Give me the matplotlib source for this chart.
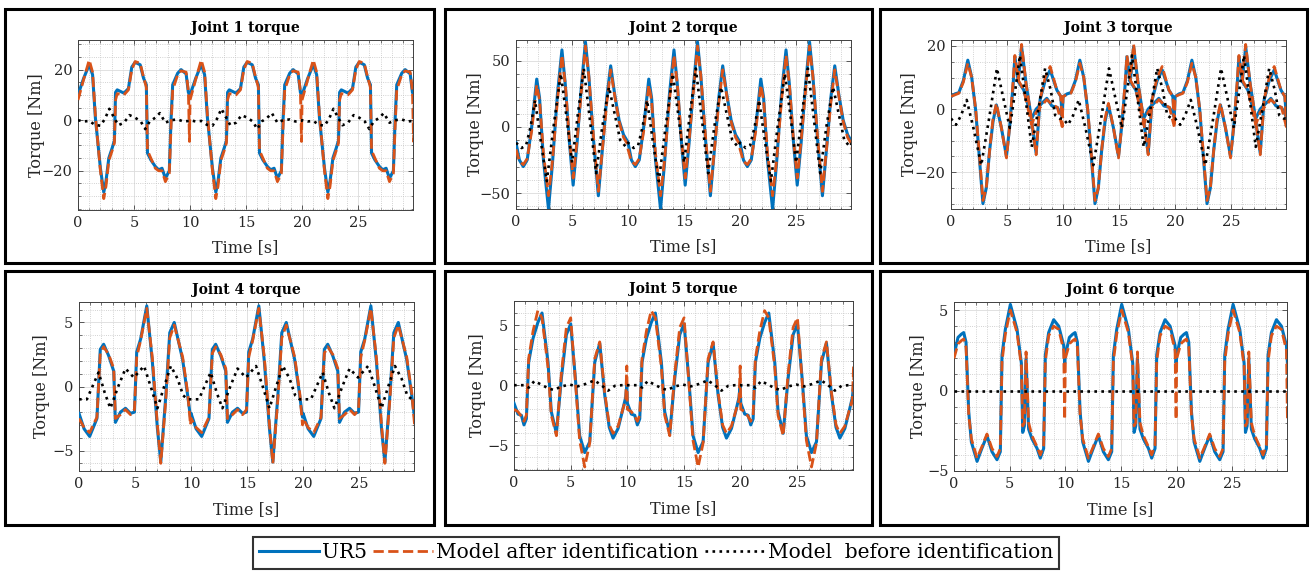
"""
Joint torques of the UR5: measured vs model after / before identification
"""
import numpy as np
import matplotlib
matplotlib.use('Agg')
import matplotlib.pyplot as plt
from matplotlib.patches import Rectangle
from matplotlib.ticker import MultipleLocator

#==================
# Data, one 10 s cycle of the repeated trajectory
PERIOD = 10.0

J1_T = [0, 0.5, 1.0, 1.3, 1.55, 2.0, 2.3, 2.5, 2.75, 3.05, 3.25, 3.35, 3.5, 4.1, 4.5, 4.8, 5.1,
        5.55, 5.85, 6.1, 6.2, 6.5, 6.9, 7.2, 7.5, 7.8, 8.15, 8.3, 8.45, 8.9, 9.2, 9.65, 9.85, 9.95]
J1_UR5 = [10, 16.5, 22, 18, 1, -19, -28.5, -24, -15, -11, -8, 11, 12, 10.7, 12.5, 21, 22.9,
          21.9, 16.6, 14, -13, -15.7, -18.3, -19.6, -19, -23, -20, 0, 14, 18.6, 20, 18.3, 11, 10]
J1_AFTER = [8, 16, 23.8, 19, 2, -20, -31, -26, -16, -12, -9, 8, 10.5, 10, 12, 20, 23.2,
            22.5, 17, 13, -12, -15, -19, -20, -20, -24.3, -21, -3, 12, 18, 19.5, 19, 11.5, -8.4]
J1_BEFORE_T = [0, 0.5, 1.0, 1.5, 2.0, 2.4, 2.8, 3.1, 3.6, 4.1, 4.6, 5.1, 5.6, 6.0, 6.4, 6.9,
               7.3, 7.8, 8.3, 8.9, 9.4, 9.9]
J1_BEFORE = [0, -0.5, -0.3, -1.8, -2.2, 0.5, 4.5, 2, -2, -1, 2, 1, -0.5, -3.5, -0.5, 1,
             2.8, -1, 0, 0.3, -0.5, -0.3]

J2_T = [0, 0.3, 0.65, 1.0, 1.4, 1.85, 2.1, 2.45, 2.9, 3.25, 3.7, 4.1, 4.4, 4.75, 5.1, 5.45,
        5.85, 6.2, 6.5, 6.9, 7.35, 7.7, 8.1, 8.45, 8.8, 9.2, 9.6, 9.95]
J2_UR5 = [-12, -25, -30, -25, 0, 36, 22, -25, -62, -28, 25, 58, 32, -10, -44, -12,
          32, 64, 38, -8, -52, -18, 22, 46, 25, 5, -6, -11]
J2_AFTER = [-17, -26, -28.5, -24, -3, 31.5, 20, -20, -52, -26, 20, 54, 32, -8, -38.7, -10,
            28, 61, 38, -6, -48.7, -18, 18, 43, 24, 4, -8, -13]
J2_BEFORE_T = [0, 0.5, 0.9, 1.3, 1.7, 2.2, 2.75, 3.35, 4.0, 4.5, 5.0, 5.5, 6.05, 6.6, 7.15,
               7.7, 8.3, 8.8, 9.3, 9.8]
J2_BEFORE = [-12, -16, -14, 0, 20, -10, -41, 0, 40, 8, -27, 8, 44, 5, -35,
             0, 30, 10, -10, -15]

J3_T = [0, 0.35, 0.7, 1.1, 1.5, 1.85, 2.2, 2.5, 2.85, 3.15, 3.45, 3.75, 4.05, 4.5, 4.95,
        5.25, 5.55, 5.7, 6.0, 6.3, 6.7, 7.05, 7.6, 7.95, 8.4, 8.85, 9.45, 9.8, 9.93]
J3_UR5 = [3.9, 4.8, 5.2, 9, 15.5, 10, -0.3, -14, -30, -25, -13, -4, 1.3, -6, -15,
          -5, 8, 16.6, 8.7, 19.8, 8, 0, -14, 2.9, 9, 12.4, 6, 4, -2.4]
J3_AFTER = [4, 4.5, 5, 8.5, 14.5, 10, 0, -13, -29, -25, -13, -3, 1.8, -6, -15.5,
            -5, 9, 17, 9.5, 20.5, 8, 0, -14.5, 3, 10, 13.5, 6, 4, -5.6]
# second, lower trace seen between 6 s and 10 s of each cycle
J3_T2 = [5.95, 6.5, 7.2, 7.6, 8.55, 9.0, 9.5, 9.93]
J3_UR5_2 = [9, 6, -3, 0, 3.4, 1, 0.5, -2.4]
J3_AFTER_2 = [9.5, 6, -5, -1, 3, 1.5, 0.5, -5.6]
J3_BEFORE_T = [0, 0.45, 0.9, 1.4, 2.0, 2.7, 3.4, 4.1, 4.7, 5.25, 5.7, 6.15, 6.7, 7.2, 7.8,
               8.4, 8.9, 9.3, 9.7]
J3_BEFORE = [-3, -5, -2, 2.9, -6, -17.8, -3, 12.9, 3, -6, 5, 17, 2, -12, 0,
             12.9, 6, -2, -3]

J4_T = [0, 0.45, 0.95, 1.6, 1.9, 2.2, 2.65, 3.1, 3.25, 3.7, 4.15, 4.6, 4.95, 5.15, 5.5,
        6.05, 6.55, 7.0, 7.3, 7.75, 8.1, 8.5, 9.25, 9.7, 9.95]
J4_UR5 = [-2.1, -3.3, -3.9, -2.5, 2.9, 3.3, 2.4, 1.2, -2.8, -2.0, -1.7, -2.1, -2.0, 2.7, 3.7,
          6.3, 1.9, -3.3, -5.9, -0.7, 4.2, 5.0, 2.1, -0.7, -2.4]
J4_AFTER = [-2.5, -3.2, -3.6, -2.4, 2.6, 3.1, 2.5, 1.4, -2.5, -2.2, -1.8, -2.2, -1.8, 2.3, 3.6,
            6.1, 2.2, -3.0, -6.0, -1.0, 3.8, 4.8, 2.3, -0.5, -3.0]
J4_BEFORE_T = [0, 0.7, 1.2, 1.75, 2.3, 2.8, 3.5, 4.15, 4.9, 5.8, 6.4, 7.0, 7.6, 8.2, 8.8,
               9.3, 9.7]
J4_BEFORE = [-1, -1, 0, 1.1, -0.5, -1.7, 0, 1.4, 0.7, 1.6, 0, -1.7, 0, 1.6, 0.6,
             -0.7, -1]

J5_T = [0, 0.35, 0.65, 0.88, 1.09, 1.29, 1.68, 2.1, 2.47, 3.0, 3.29, 3.74, 4.18, 4.62, 5.0,
        5.41, 5.79, 6.24, 6.68, 7.12, 7.56, 8.0, 8.4, 8.74, 9.18, 9.6, 9.85, 9.95]
J5_UR5 = [-1.5, -2.4, -2.5, -3.3, -2.8, 1.9, 3.9, 5.2, 6.0, 1.9, -2.2, -4.0, 0.6, 4.2, 5.1,
          0.6, -4.2, -5.6, -4.7, 1.9, 3.5, -0.8, -3.5, -4.4, -3.6, -2.0, -1.0, 0]
J5_AFTER = [-2.0, -2.2, -2.6, -3.0, -2.5, 2.2, 4.5, 6.2, 5.6, 1.5, -2.5, -4.2, 1.0, 4.8, 5.6,
            0.4, -4.6, -6.8, -4.8, 2.2, 3.6, -0.6, -3.3, -4.0, -3.4, -2.0, -1.2, 1.6]
J5_BEFORE_T = [0, 0.9, 1.3, 1.8, 2.4, 3.0, 3.5, 4.2, 4.9, 5.6, 6.3, 7.1, 7.7, 8.3, 8.9, 9.5]
J5_BEFORE = [0, 0, -0.2, 0.35, 0.05, -0.25, -0.4, -0.1, 0.05, -0.1, 0.1, 0.4, 0, -0.45, -0.05, 0]

J6_T = [0, 0.36, 0.66, 0.87, 1.08, 1.32, 1.56, 2.07, 2.5, 2.96, 3.41, 3.86, 4.16, 4.31, 4.61,
        5.06, 5.66, 6.05, 6.17, 6.32, 6.47, 6.7, 7.0, 7.46, 7.75, 8.05, 8.2, 8.5, 8.95, 9.4,
        9.85, 9.94]
J6_UR5 = [2.2, 3.3, 3.5, 3.6, 3.0, -1.3, -3.2, -4.4, -3.6, -2.8, -3.8, -4.3, -3.8, 2.2, 3.8,
          5.35, 3.8, 1.7, -2.6, -2.2, 2.0, -2.4, -3.0, -3.6, -4.2, -3.6, 2.2, 3.6, 4.4, 4.0,
          2.8, 1.7]
J6_AFTER = [2.0, 2.9, 3.1, 3.2, 2.7, -1.5, -3.0, -4.2, -3.5, -2.7, -3.6, -4.1, -3.6, 1.8, 3.5,
            5.0, 3.6, 1.5, -2.2, -2.0, 2.4, -2.0, -2.8, -3.5, -4.0, -3.4, 1.8, 3.4, 4.0, 3.8,
            2.5, -1.8]
J6_BEFORE_T = [0, 10]
J6_BEFORE = [0, 0]

LABELS = ['UR5', 'Model after identification', 'Model  before identification']

#==================
# Figure setup
W, H = 1310, 574
BLUE = '#0072BD'
ORANGE = '#D95319'
plt.rcParams['font.family'] = ['DejaVu Serif']


def cycles(t, v, n=4, gap=False):
    """Repeat one measured cycle over the 30 s window"""
    t = np.asarray(t, float)
    v = np.asarray(v, float)
    if gap:
        t = np.append(t, np.nan)
        v = np.append(v, np.nan)
    tt = np.concatenate([t + PERIOD * k for k in range(n)])
    return tt, np.tile(v, n)


def px_axes(x0, y0, x1, y1):
    return [x0 / W, 1 - y1 / H, (x1 - x0) / W, (y1 - y0) / H]


# title, ur5, after, before, extra traces, ylim, ytick step, minor step, axes px, label coords
PANELS = [
    ('Joint 1 torque', (J1_T, J1_UR5), (J1_T, J1_AFTER), (J1_BEFORE_T, J1_BEFORE), None,
     (-35.5, 31.7), 20, 5, (78, 40, 413, 210), -0.098, -0.17),
    ('Joint 2 torque', (J2_T, J2_UR5), (J2_T, J2_AFTER), (J2_BEFORE_T, J2_BEFORE), None,
     (-62, 65.5), 50, 10, (516, 40, 851, 209), -0.097, -0.17),
    ('Joint 3 torque', (J3_T, J3_UR5), (J3_T, J3_AFTER), (J3_BEFORE_T, J3_BEFORE),
     ((J3_T2, J3_UR5_2), (J3_T2, J3_AFTER_2)),
     (-31.7, 21.9), 20, 5, (951, 40, 1286, 209), -0.099, -0.17),
    ('Joint 4 torque', (J4_T, J4_UR5), (J4_T, J4_AFTER), (J4_BEFORE_T, J4_BEFORE), None,
     (-6.6, 6.6), 5, 1, (79, 302, 414, 471), -0.087, -0.18),
    ('Joint 5 torque', (J5_T, J5_UR5), (J5_T, J5_AFTER), (J5_BEFORE_T, J5_BEFORE), None,
     (-7.05, 7.0), 5, 1, (514, 301, 853, 470), -0.083, -0.18),
    ('Joint 6 torque', (J6_T, J6_UR5), (J6_T, J6_AFTER), (J6_BEFORE_T, J6_BEFORE), None,
     (-5.0, 5.5), 5, 1, (954, 302, 1287, 471), -0.081, -0.18),
]

BOXES = [(4.5, 9, 433.5, 262.5), (445.5, 9, 872, 262.5), (879.5, 9, 1307, 262.5),
         (4.5, 271, 433.5, 524.5), (445.5, 271, 872, 524.5), (879.5, 271, 1307, 524.5)]

FIG = plt.figure(figsize=(W / 100, H / 100), dpi=100)

HANDLES = None
for (title, ur5, after, before, extra, ylim, ystep, yminor, box, ylx, xly) in PANELS:
    AX = FIG.add_axes(px_axes(*box))
    l1, = AX.plot(*cycles(*ur5), color=BLUE, lw=2.2, zorder=3)
    l2, = AX.plot(*cycles(*after), color=ORANGE, lw=2.0, ls='--', zorder=4)
    if extra is not None:
        AX.plot(*cycles(*extra[0], gap=True), color=BLUE, lw=2.2, zorder=3)
        AX.plot(*cycles(*extra[1], gap=True), color=ORANGE, lw=2.0, ls='--', zorder=4)
    l3, = AX.plot(*cycles(*before), color='black', lw=1.9, ls=':', zorder=5)
    if HANDLES is None:
        HANDLES = [l1, l2, l3]

    AX.set_xlim(0, 29.9)
    AX.set_ylim(*ylim)
    AX.xaxis.set_major_locator(MultipleLocator(5))
    AX.xaxis.set_minor_locator(MultipleLocator(1))
    AX.yaxis.set_major_locator(MultipleLocator(ystep))
    AX.yaxis.set_minor_locator(MultipleLocator(yminor))
    AX.set_axisbelow(True)
    AX.grid(True, which='major', color='#dcdcdc', lw=0.6, ls='-')
    AX.grid(True, which='minor', color='#c4c4c4', lw=0.6, ls=':')
    AX.tick_params(which='both', direction='in', top=True, right=True,
                   colors='#404040', labelcolor='#262626', labelsize=10.5, pad=4)
    AX.tick_params(which='major', length=3.5, width=0.6)
    AX.tick_params(which='minor', length=1.8, width=0.5)
    for sp in AX.spines.values():
        sp.set_color('#404040')
        sp.set_linewidth(0.7)

    AX.set_title(title, fontsize=10, fontweight='bold', pad=6)
    AX.set_ylabel('Torque [Nm]', fontsize=11.5, color='#262626')
    AX.set_xlabel('Time [s]', fontsize=11.5, color='#262626')
    AX.yaxis.set_label_coords(ylx, 0.5)
    AX.xaxis.set_label_coords(0.5, xly)

for (x0, y0, x1, y1) in BOXES:
    FIG.add_artist(Rectangle((x0 / W, 1 - y1 / H), (x1 - x0) / W, (y1 - y0) / H,
                             transform=FIG.transFigure, fill=False, lw=2.2, ec='black'))

LEG = FIG.legend(HANDLES, LABELS, loc='center', bbox_to_anchor=(656 / W, 1 - 553 / H),
                 ncol=3, fontsize=14.5, frameon=True, fancybox=False, edgecolor='black',
                 handlelength=3.0, handletextpad=0.15, columnspacing=0.3, borderpad=0.3)
LEG.get_frame().set_linewidth(1.5)

FIG.savefig('out.png', dpi=100, facecolor='white')
